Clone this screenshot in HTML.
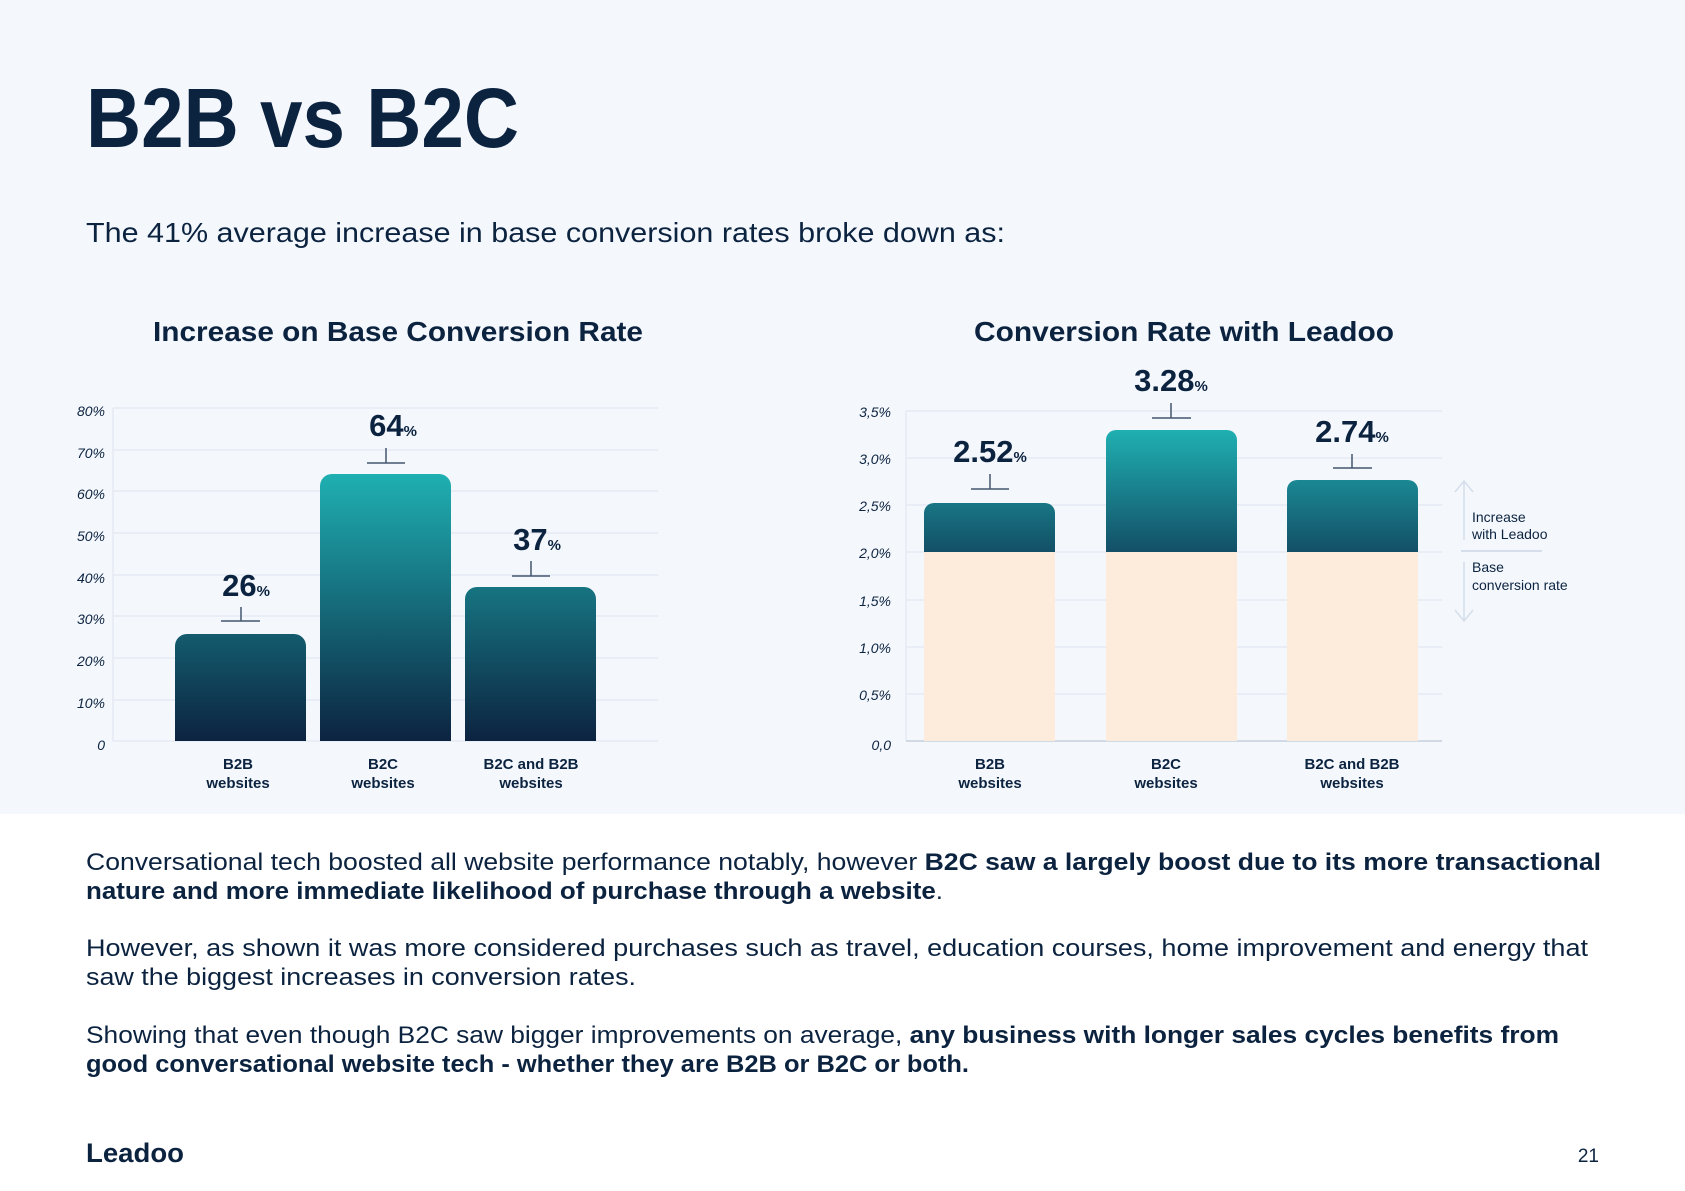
<!DOCTYPE html>
<html><head><meta charset="utf-8"><style>html,body{margin:0;padding:0;background:#fff}svg{display:block}text{font-family:"Liberation Sans",sans-serif;fill:#0c2340}</style></head><body>
<svg width="1685" height="1191" viewBox="0 0 1685 1191" xmlns="http://www.w3.org/2000/svg">
<defs>
<linearGradient id="gl" gradientUnits="userSpaceOnUse" x1="0" y1="474" x2="0" y2="741"><stop offset="0" stop-color="#1fb0b2"/><stop offset="1" stop-color="#0c2340"/></linearGradient>
<linearGradient id="gr" gradientUnits="userSpaceOnUse" x1="0" y1="430" x2="0" y2="552"><stop offset="0" stop-color="#1fb0b2"/><stop offset="1" stop-color="#134f66"/></linearGradient>
</defs>
<rect width="1685" height="814" fill="#f4f8fd"/>
<text x="86" y="147" font-size="84" font-weight="bold" textLength="433" lengthAdjust="spacingAndGlyphs">B2B vs B2C</text>
<text x="86" y="242" font-size="28" textLength="919" lengthAdjust="spacingAndGlyphs">The 41% average increase in base conversion rates broke down as:</text>
<text x="398" y="341" font-size="28" font-weight="bold" text-anchor="middle" textLength="490" lengthAdjust="spacingAndGlyphs">Increase on Base Conversion Rate</text>
<text x="1184" y="341" font-size="28" font-weight="bold" text-anchor="middle" textLength="420" lengthAdjust="spacingAndGlyphs">Conversion Rate with Leadoo</text>
<!-- left chart -->
<g stroke="#e3e9f3" stroke-width="1.5">
<line x1="113" y1="408" x2="658" y2="408"/><line x1="113" y1="450" x2="658" y2="450"/><line x1="113" y1="491" x2="658" y2="491"/><line x1="113" y1="533" x2="658" y2="533"/><line x1="113" y1="575" x2="658" y2="575"/><line x1="113" y1="616" x2="658" y2="616"/><line x1="113" y1="658" x2="658" y2="658"/><line x1="113" y1="700" x2="658" y2="700"/><line x1="113" y1="741" x2="658" y2="741"/><line x1="113" y1="408" x2="113" y2="741"/>
</g>
<g font-size="14" font-style="italic" text-anchor="end" fill="#0c2340">
<text x="105" y="416">80%</text><text x="105" y="458">70%</text><text x="105" y="499">60%</text><text x="105" y="541">50%</text><text x="105" y="583">40%</text><text x="105" y="624">30%</text><text x="105" y="666">20%</text><text x="105" y="708">10%</text><text x="105" y="750">0</text>
</g>
<path d="M175,741V646a12,12 0 0 1 12,-12H294a12,12 0 0 1 12,12V741Z" fill="url(#gl)"/>
<path d="M320,741V486a12,12 0 0 1 12,-12H439a12,12 0 0 1 12,12V741Z" fill="url(#gl)"/>
<path d="M465,741V599a12,12 0 0 1 12,-12H584a12,12 0 0 1 12,12V741Z" fill="url(#gl)"/>
<g stroke="#44566e" stroke-width="1.5">
<line x1="241" y1="607" x2="241" y2="621"/><line x1="221" y1="621" x2="260" y2="621"/>
<line x1="386" y1="448" x2="386" y2="463"/><line x1="367" y1="463" x2="405" y2="463"/>
<line x1="531" y1="561" x2="531" y2="576"/><line x1="512" y1="576" x2="550" y2="576"/>
</g>
<g font-weight="bold" font-size="31" text-anchor="middle">
<text x="246" y="596">26<tspan font-size="15">%</tspan></text>
<text x="393" y="436">64<tspan font-size="15">%</tspan></text>
<text x="537" y="550">37<tspan font-size="15">%</tspan></text>
</g>
<g font-weight="bold" font-size="15" text-anchor="middle">
<text x="238" y="769">B2B</text><text x="238" y="788">websites</text>
<text x="383" y="769">B2C</text><text x="383" y="788">websites</text>
<text x="531" y="769">B2C and B2B</text><text x="531" y="788">websites</text>
</g>
<!-- right chart -->
<g stroke="#e3e9f3" stroke-width="1.5">
<line x1="906" y1="411" x2="1442" y2="411"/><line x1="906" y1="458" x2="1442" y2="458"/><line x1="906" y1="505" x2="1442" y2="505"/><line x1="906" y1="552" x2="1442" y2="552"/><line x1="906" y1="600" x2="1442" y2="600"/><line x1="906" y1="647" x2="1442" y2="647"/><line x1="906" y1="694" x2="1442" y2="694"/><line x1="906" y1="411" x2="906" y2="741"/>
</g>
<line x1="906" y1="741" x2="1442" y2="741" stroke="#c5cfdc" stroke-width="1.5"/>
<g font-size="14" font-style="italic" text-anchor="end">
<text x="891" y="417">3,5%</text><text x="891" y="464">3,0%</text><text x="891" y="511">2,5%</text><text x="891" y="558">2,0%</text><text x="891" y="606">1,5%</text><text x="891" y="653">1,0%</text><text x="891" y="700">0,5%</text><text x="891" y="750">0,0</text>
</g>
<rect x="924" y="552" width="131" height="189" fill="#fdecdb"/>
<rect x="1106" y="552" width="131" height="189" fill="#fdecdb"/>
<rect x="1287" y="552" width="131" height="189" fill="#fdecdb"/>
<path d="M924,552V513a10,10 0 0 1 10,-10H1045a10,10 0 0 1 10,10V552Z" fill="url(#gr)"/>
<path d="M1106,552V440a10,10 0 0 1 10,-10H1227a10,10 0 0 1 10,10V552Z" fill="url(#gr)"/>
<path d="M1287,552V490a10,10 0 0 1 10,-10H1408a10,10 0 0 1 10,10V552Z" fill="url(#gr)"/>
<g stroke="#44566e" stroke-width="1.5">
<line x1="990" y1="474" x2="990" y2="489"/><line x1="971" y1="489" x2="1009" y2="489"/>
<line x1="1171" y1="403" x2="1171" y2="418"/><line x1="1152" y1="418" x2="1191" y2="418"/>
<line x1="1352" y1="454" x2="1352" y2="468"/><line x1="1333" y1="468" x2="1372" y2="468"/>
</g>
<g font-weight="bold" font-size="31" text-anchor="middle">
<text x="990" y="462">2.52<tspan font-size="15">%</tspan></text>
<text x="1171" y="391">3.28<tspan font-size="15">%</tspan></text>
<text x="1352" y="442">2.74<tspan font-size="15">%</tspan></text>
</g>
<g font-weight="bold" font-size="15" text-anchor="middle">
<text x="990" y="769">B2B</text><text x="990" y="788">websites</text>
<text x="1166" y="769">B2C</text><text x="1166" y="788">websites</text>
<text x="1352" y="769">B2C and B2B</text><text x="1352" y="788">websites</text>
</g>
<g stroke="#d5deea" stroke-width="1.5" fill="none">
<line x1="1464" y1="482" x2="1464" y2="540"/><polyline points="1455,492 1464,481 1473,492"/>
<line x1="1464" y1="562" x2="1464" y2="620"/><polyline points="1455,610 1464,621 1473,610"/>
<line x1="1461" y1="551" x2="1542" y2="551" stroke-width="2"/>
</g>
<g font-size="14">
<text x="1472" y="522">Increase</text><text x="1472" y="539">with Leadoo</text>
<text x="1472" y="572">Base</text><text x="1472" y="590">conversion rate</text>
</g>
<!-- body text -->
<g font-size="24">
<text x="86" y="870" textLength="1515" lengthAdjust="spacingAndGlyphs">Conversational tech boosted all website performance notably, however <tspan font-weight="bold">B2C saw a largely boost due to its more transactional</tspan></text>
<text x="86" y="899" textLength="857" lengthAdjust="spacingAndGlyphs"><tspan font-weight="bold">nature and more immediate likelihood of purchase through a website</tspan>.</text>
<text x="86" y="956" textLength="1502" lengthAdjust="spacingAndGlyphs">However, as shown it was more considered purchases such as travel, education courses, home improvement and energy that</text>
<text x="86" y="985" textLength="550" lengthAdjust="spacingAndGlyphs">saw the biggest increases in conversion rates.</text>
<text x="86" y="1043" textLength="1473" lengthAdjust="spacingAndGlyphs">Showing that even though B2C saw bigger improvements on average, <tspan font-weight="bold">any business with longer sales cycles benefits from</tspan></text>
<text x="86" y="1072" textLength="883" lengthAdjust="spacingAndGlyphs" font-weight="bold">good conversational website tech - whether they are B2B or B2C or both.</text>
</g>
<text x="86" y="1162" font-size="27" font-weight="bold" textLength="98" lengthAdjust="spacingAndGlyphs">Leadoo</text>
<text x="1599" y="1162" font-size="19" text-anchor="end">21</text>
</svg>
</body></html>
